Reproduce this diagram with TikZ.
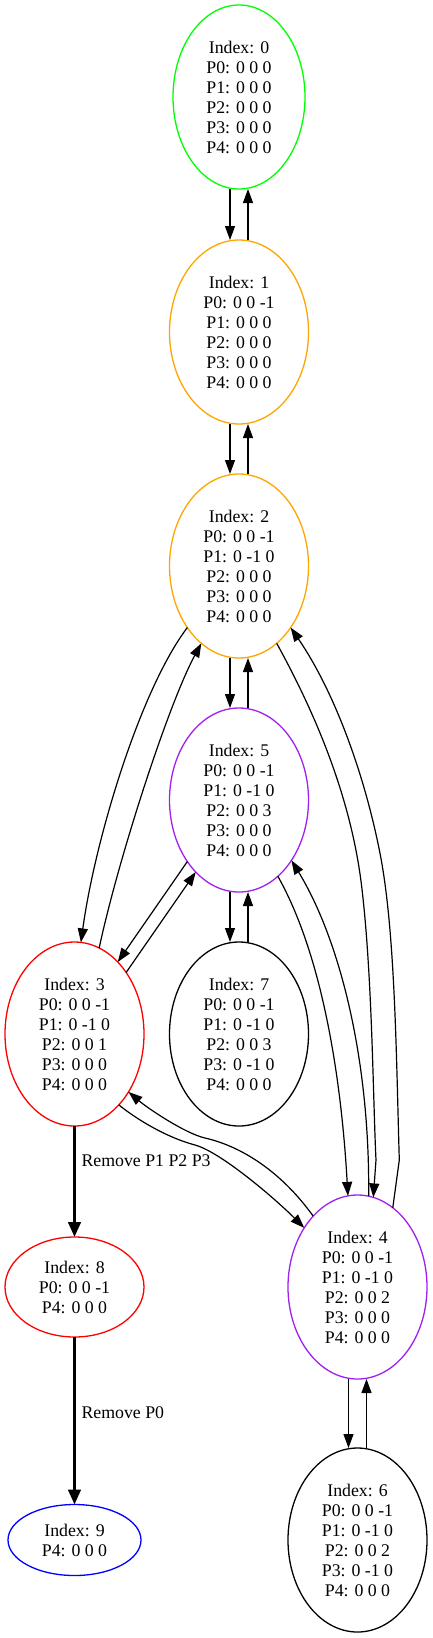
\documentclass[tikz,border=0pt]{standalone}
\usepackage{fontspec}
\setmainfont{Liberation Serif}
\usetikzlibrary{arrows.meta,shapes.geometric}
\definecolor{cgreen}{RGB}{0,255,0}
\definecolor{corange}{RGB}{255,165,0}
\definecolor{cpurple}{RGB}{160,32,240}
\definecolor{cred}{RGB}{255,0,0}
\definecolor{cblue}{RGB}{0,0,255}
\tikzset{
  st/.style={ellipse, draw, line width=1.3pt, inner sep=0pt, outer sep=0pt,
    minimum width=139pt, minimum height=184pt, align=center,
    font=\fontsize{17.8pt}{20pt}\selectfont},
  ed/.style={draw, line width=1.2pt, -{Triangle[length=14pt,width=10pt]}},
  bed/.style={draw, line width=3pt, -{Triangle[length=15pt,width=12.5pt]}},
  lab/.style={anchor=west, inner sep=0pt, xshift=5.5pt, font=\fontsize{17.8pt}{20pt}\selectfont}
}
\begin{document}
\begin{tikzpicture}[x=1pt,y=-1pt]
\useasboundingbox (0,0) rectangle (433,1638);
\node[st, draw=cgreen, minimum width=132pt] (n0) at (239,97) {Index: 0\\P0: 0 0 0\\P1: 0 0 0\\P2: 0 0 0\\P3: 0 0 0\\P4: 0 0 0};
\node[st, draw=corange] (n1) at (239,332) {Index: 1\\P0: 0 0 -1\\P1: 0 0 0\\P2: 0 0 0\\P3: 0 0 0\\P4: 0 0 0};
\node[st, draw=corange] (n2) at (239,566) {Index: 2\\P0: 0 0 -1\\P1: 0 -1 0\\P2: 0 0 0\\P3: 0 0 0\\P4: 0 0 0};
\node[st, draw=cpurple] (n5) at (239,800) {Index: 5\\P0: 0 0 -1\\P1: 0 -1 0\\P2: 0 0 3\\P3: 0 0 0\\P4: 0 0 0};
\node[st, draw=cred] (n3) at (74.5,1034) {Index: 3\\P0: 0 0 -1\\P1: 0 -1 0\\P2: 0 0 1\\P3: 0 0 0\\P4: 0 0 0};
\node[st, draw=black] (n7) at (239,1034) {Index: 7\\P0: 0 0 -1\\P1: 0 -1 0\\P2: 0 0 3\\P3: 0 -1 0\\P4: 0 0 0};
\node[st, draw=cpurple] (n4) at (357.5,1287) {Index: 4\\P0: 0 0 -1\\P1: 0 -1 0\\P2: 0 0 2\\P3: 0 0 0\\P4: 0 0 0};
\node[st, draw=cred, minimum height=100pt] (n8) at (74.5,1287) {Index: 8\\P0: 0 0 -1\\P4: 0 0 0};
\node[st, draw=cblue, minimum width=133pt, minimum height=71pt] (n9) at (74.5,1540) {Index: 9\\P4: 0 0 0};
\node[st, draw=black] (n6) at (357.5,1540) {Index: 6\\P0: 0 0 -1\\P1: 0 -1 0\\P2: 0 0 2\\P3: 0 -1 0\\P4: 0 0 0};
% vertical pairs
\path[ed] ([xshift=-9pt]n0.south) -- ([xshift=-9pt]n1.north);
\path[ed] ([xshift=9pt]n1.north) -- ([xshift=9pt]n0.south);
\path[ed] ([xshift=-9pt]n1.south) -- ([xshift=-9pt]n2.north);
\path[ed] ([xshift=9pt]n2.north) -- ([xshift=9pt]n1.south);
\path[ed] ([xshift=-9pt]n2.south) -- ([xshift=-9pt]n5.north);
\path[ed] ([xshift=9pt]n5.north) -- ([xshift=9pt]n2.south);
\path[ed] ([xshift=-9pt]n5.south) -- ([xshift=-9pt]n7.north);
\path[ed] ([xshift=9pt]n7.north) -- ([xshift=9pt]n5.south);
\path[ed] ([xshift=-9pt]n4.south) -- ([xshift=-9pt]n6.north);
\path[ed] ([xshift=9pt]n6.north) -- ([xshift=9pt]n4.south);
% 2 <-> 3
\path[ed] (n2.230) .. controls (140,690) and (95,840) .. (n3.86);
\path[ed] (n3.74) .. controls (118,860) and (168,705) .. (n2.244);
% 5 <-> 3
\path[ed] (n5.230) -- (n3.59.5);
\path[ed] (n3.50.6) -- (n5.239.7);
% 5 <-> 4
\path[ed] (n5.297) .. controls (325,960) and (342,1090) .. (n4.96);
\path[ed] (n4.83.7) .. controls (370,1060) and (340,940) .. (n5.311.4);
% 2 <-> 4
\path[ed] (n2.296.7) .. controls (318.5,719.3) and (351.5,801.3) .. (361.7,886.7)
  .. controls (372.4,976.1) and (373,1100) .. (376,1160) -- (n4.80.4);
\path[ed] (n4.66.9) -- (399.3,1160) .. controls (396.3,1060) and (395.4,931.8) .. (380,853.3)
  .. controls (364.6,774.8) and (334.9,692.4) .. (n2.310.3);
% 3 <-> 4
\path[ed] (n3.302.7) .. controls (135,1118) and (165,1137) .. (195,1145)
  .. controls (220,1151.7) and (273.7,1197.3) .. (n4.132.8);
\path[ed] (n4.122.5) .. controls (280,1170) and (240,1146) .. (205,1138)
  .. controls (185,1133.4) and (148,1108.4) .. (n3.313.9);
% bold
\path[bed] (n3.south) -- node[lab, pos=0.316] {Remove P1 P2 P3} (n8.north);
\path[bed] (n8.south) -- node[lab, pos=0.452] {Remove P0} (n9.north);
\end{tikzpicture}
\end{document}
